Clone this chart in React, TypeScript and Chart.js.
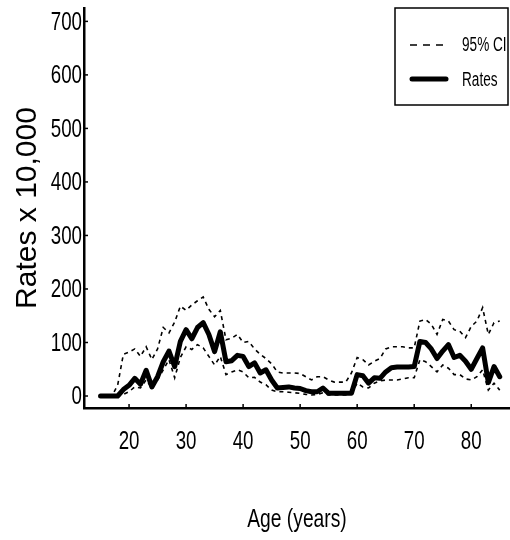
import React, { useEffect, useRef } from "react";
import { Chart, registerables } from "chart.js";

Chart.register(...registerables);

const ages = [
  15, 16, 17, 18, 19, 20, 21, 22, 23, 24, 25, 26, 27, 28, 29, 30, 31, 32, 33, 34,
  35, 36, 37, 38, 39, 40, 41, 42, 43, 44, 45, 46, 47, 48, 49, 50, 51, 52, 53, 54,
  55, 56, 57, 58, 59, 60, 61, 62, 63, 64, 65, 66, 67, 68, 69, 70, 71, 72, 73, 74,
  75, 76, 77, 78, 79, 80, 81, 82, 83, 84, 85,
];

const rates = [
  0, 0, 0, 0, 12, 20, 33, 22, 48, 17, 36, 64, 84, 55, 102, 124, 107, 128, 137, 115,
  83, 120, 64, 66, 76, 74, 55, 62, 43, 49, 30, 15, 16, 17, 15, 14, 10, 8, 8, 15,
  5, 5, 5, 5, 5, 40, 38, 24, 34, 33, 45, 53, 54, 54, 54, 55, 102, 100, 88, 70,
  84, 96, 72, 76, 65, 50, 70, 90, 25, 55, 36,
];

const upperCI = [
  0, 0, 0, 20, 78, 82, 88, 74, 92, 68, 88, 128, 118, 138, 168, 160, 170, 178, 185, 162,
  148, 160, 105, 108, 115, 100, 102, 88, 78, 70, 60, 45, 43, 43, 43, 42, 36, 30, 36, 36,
  30, 26, 26, 26, 43, 72, 68, 58, 65, 70, 88, 92, 92, 92, 90, 90, 140, 143, 134, 115,
  143, 140, 124, 121, 109, 130, 140, 165, 115, 137, 140,
];

const lowerCI = [
  0, 0, 0, 0, 3, 8, 17, 15, 30, 15, 30, 49, 68, 34, 72, 92, 87, 96, 90, 74,
  58, 74, 40, 45, 49, 45, 34, 35, 26, 21, 11, 8, 8, 7, 6, 5, 3, 2, 3, 6,
  2, 2, 2, 2, 5, 24, 17, 15, 24, 28, 30, 30, 30, 32, 34, 34, 68, 64, 55, 45,
  58, 52, 40, 40, 32, 30, 36, 49, 11, 24, 11,
];

const xTicks = [20, 30, 40, 50, 60, 70, 80];
const yTicks = [0, 100, 200, 300, 400, 500, 600, 700];

const legendLabels = ["95% CI", "Rates"];
const xTitle = "Age (years)";
const yTitle = "Rates x 10,000";

const SANS = '"Liberation Sans", Arial, sans-serif';

function narrowText(ctx: any, text: string, x: number, y: number, size: number, sx: number, align: string) {
  ctx.save();
  ctx.translate(x, y);
  ctx.scale(sx, 1);
  ctx.font = size + "px " + SANS;
  ctx.textAlign = align;
  ctx.textBaseline = "middle";
  ctx.fillStyle = "#000";
  ctx.fillText(text, 0, 0);
  ctx.restore();
}

const extrasPlugin = {
  id: "extras",
  afterDraw(chart: any) {
    const { ctx, chartArea, scales } = chart;
    const xs = scales.x;
    const ys = scales.y;
    ctx.save();
    ctx.strokeStyle = "#000";
    ctx.lineWidth = 1.5;
    // inner tick marks + labels
    xTicks.forEach((t) => {
      const px = xs.getPixelForValue(t);
      ctx.beginPath();
      ctx.moveTo(px, chartArea.bottom - 1);
      ctx.lineTo(px, chartArea.bottom - 4);
      ctx.stroke();
      narrowText(ctx, String(t), px, 442, 26, 0.72, "center");
    });
    yTicks.forEach((t) => {
      const py = ys.getPixelForValue(t);
      ctx.beginPath();
      ctx.moveTo(chartArea.left + 1, py);
      ctx.lineTo(chartArea.left + 4, py);
      ctx.stroke();
      narrowText(ctx, String(t), chartArea.left - 2, py + 1, 26, 0.72, "right");
    });
    narrowText(ctx, xTitle, (chartArea.left + chartArea.right) / 2, 520, 26, 0.74, "center");
    // legend box
    const bx = 395, by = 8, bw = 113, bh = 97;
    ctx.lineWidth = 1.5;
    ctx.strokeRect(bx, by, bw, bh);
    ctx.beginPath();
    ctx.setLineDash([7, 6]);
    ctx.lineWidth = 1.5;
    ctx.moveTo(410, 45);
    ctx.lineTo(448, 45);
    ctx.stroke();
    ctx.setLineDash([]);
    ctx.beginPath();
    ctx.lineWidth = 5;
    ctx.lineCap = "round";
    ctx.moveTo(412, 79);
    ctx.lineTo(446, 79);
    ctx.stroke();
    narrowText(ctx, legendLabels[0], 462, 45, 20, 0.68, "left");
    narrowText(ctx, legendLabels[1], 462, 80, 20, 0.68, "left");
    ctx.restore();
  },
};

export default function App() {
  const ref = useRef<HTMLCanvasElement>(null);
  useEffect(() => {
    document.body.style.margin = "0";
    const canvas = ref.current;
    if (!canvas) return;
    const chart = new Chart(canvas, {
      type: "line",
      data: {
        labels: ages,
        datasets: [
          {
            label: "Upper CI",
            data: ages.map((a, i) => ({ x: a, y: upperCI[i] })),
            borderColor: "#000",
            borderWidth: 1.6,
            borderDash: [4, 4],
            pointRadius: 0,
            tension: 0,
          },
          {
            label: "Lower CI",
            data: ages.map((a, i) => ({ x: a, y: lowerCI[i] })),
            borderColor: "#000",
            borderWidth: 1.6,
            borderDash: [4, 4],
            pointRadius: 0,
            tension: 0,
          },
          {
            label: "Rates",
            data: ages.map((a, i) => ({ x: a, y: rates[i] })),
            borderColor: "#000",
            borderWidth: 5,
            borderJoinStyle: "round",
            borderCapStyle: "round",
            pointRadius: 0,
            tension: 0,
          },
        ],
      },
      options: {
        responsive: false,
        animation: false,
        layout: { padding: { top: 8, right: 0, left: 0, bottom: 0 } },
        plugins: { legend: { display: false }, tooltip: { enabled: false } },
        scales: {
          x: {
            type: "linear",
            min: 12.1,
            max: 86.8,
            grid: { display: false, drawTicks: false },
            border: { display: true, color: "#000", width: 2.5 },
            afterBuildTicks: (s: any) => {
              s.ticks = xTicks.map((v) => ({ value: v }));
            },
            afterFit: (s: any) => {
              s.height = 132;
            },
            ticks: { display: false },
            title: { display: false },
          },
          y: {
            type: "linear",
            min: -22.4,
            max: 725,
            grid: { display: false, drawTicks: false },
            border: { display: true, color: "#000", width: 2.5 },
            afterBuildTicks: (s: any) => {
              s.ticks = yTicks.map((v) => ({ value: v }));
            },
            afterFit: (s: any) => {
              s.width = 84;
            },
            ticks: { display: false },
            title: {
              display: true,
              text: yTitle,
              color: "#000",
              font: { family: SANS, size: 30 },
              padding: { top: 10, bottom: 0 },
            },
          },
        },
      },
      plugins: [extrasPlugin],
    } as any);
    return () => chart.destroy();
  }, []);
  return (
    <div>
      <canvas ref={ref} width={510} height={540} style={{ display: "block" }} />
    </div>
  );
}
